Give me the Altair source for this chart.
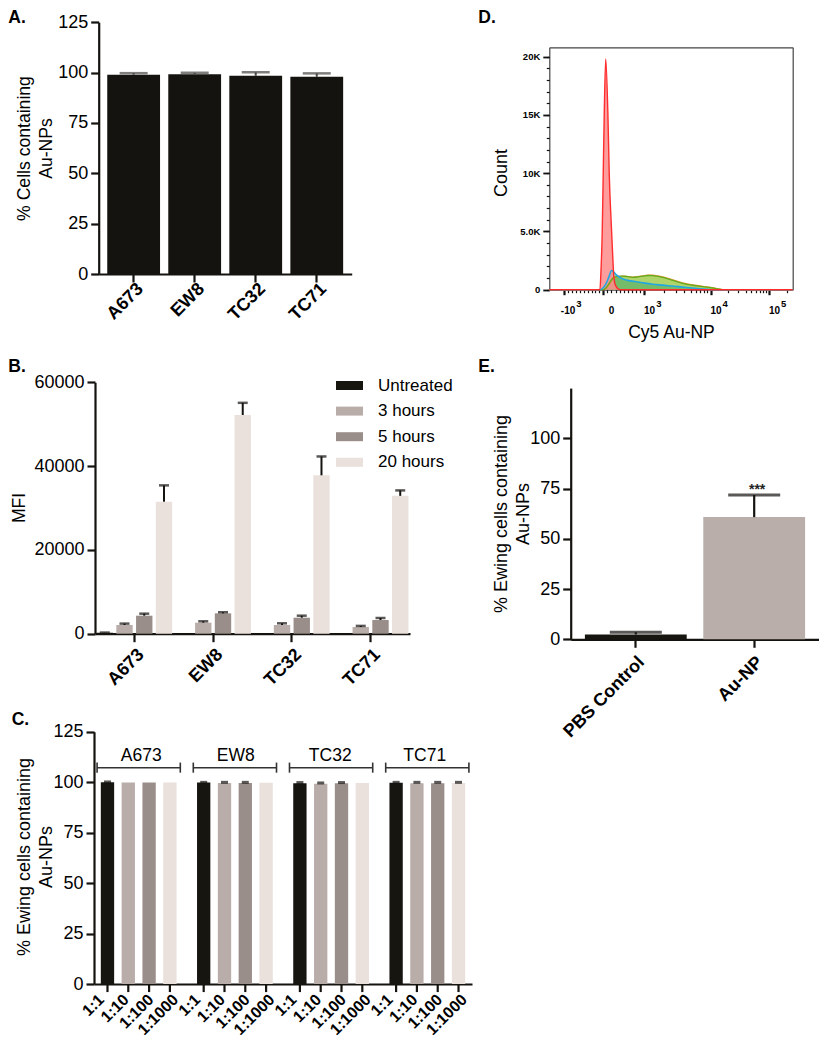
import altair as alt
import pandas as pd

# ---------------- canvas layout (page offset of the chart origin is 8px) ----------------
W, H = 811, 1034
M = 8


def px(v):
    return v - M


def py(v):
    return v - M


FONT = "Liberation Sans"
INK = "#15130f"

# ---------------- data ----------------
cell_lines = ["A673", "EW8", "TC32", "TC71"]

# Panel A: % cells containing Au-NPs
a_pct = [98.9, 99.2, 98.4, 97.9]
a_err = [0.8, 0.7, 1.7, 1.7]

# Panel B: MFI over time
b_series = ["Untreated", "3 hours", "5 hours", "20 hours"]
b_colors = ["#17150f", "#b9adaa", "#9a8e8a", "#eae0dc"]
b_untreated = [230, 120, 120, 120]
b_3h = [2080, 2630, 2080, 1600]
b_5h = [4300, 4860, 3820, 3270]
b_20h = [31500, 52200, 37800, 32900]
b_untreated_err = [40, 0, 0, 0]
b_3h_err = [330, 330, 400, 260]
b_5h_err = [480, 260, 480, 480]
b_20h_err = [3900, 2900, 4500, 1300]

# Panel C: dilution series per cell line
c_ratios = ["1:1", "1:10", "1:100", "1:1000"]
c_a673 = [99.9, 99.8, 99.8, 99.8]
c_ew8 = [99.8, 99.6, 99.6, 99.7]
c_tc32 = [99.5, 99.2, 99.5, 99.6]
c_tc71 = [99.7, 99.5, 99.5, 99.6]
c_a673_err = [0.2, 0.0, 0.0, 0.0]
c_ew8_err = [0.1, 0.3, 0.3, 0.0]
c_tc32_err = [0.3, 0.4, 0.3, 0.0]
c_tc71_err = [0.2, 0.4, 0.4, 0.3]

# Panel D: flow cytometry histograms (display channel across the frame, count)
d_red_ch = [0, 208.0, 212.1, 217.5, 221.6, 225.7, 231.8, 240.8, 246.2, 256.0, 261.4, 265.5, 273.7, 290.1, 1000]
d_red_n = [0, 0, 1500, 5000, 10000, 15000, 19800, 15000, 10000, 5000, 2500, 1000, 300, 0, 0]
d_blue_ch = [0, 208.0, 220.3, 232.6, 244.9, 256.0, 265.5, 276.5, 294.1, 317.6, 351.6, 384.4, 425.4, 466.5,
             515.7, 565.0, 610.1, 642.9, 667.5, 1000]
d_blue_n = [0, 0, 150, 500, 1100, 1650, 1500, 1250, 1000, 820, 700, 590, 470, 390, 290, 190, 100, 40, 0, 0]
d_green_ch = [0, 220.3, 232.6, 244.9, 257.3, 269.6, 286.0, 302.4, 322.9, 343.4, 363.9, 384.4, 405.0, 425.5,
              446.0, 466.5, 495.2, 523.9, 565.0, 606.0, 638.8, 659.4, 684.0, 700.4, 716.8, 1000]
d_green_n = [0, 0, 150, 500, 900, 1100, 1150, 1160, 1120, 1060, 1100, 1160, 1220, 1210, 1150, 1060, 880,
             690, 460, 330, 240, 190, 100, 40, 0, 0]
d_orange_ch = [0, 222.0, 234.0, 246.0, 258.0, 270.0, 286.0, 302.0, 323.0, 343.0, 364.0, 384.0, 405.0,
               425.0, 446.0, 466.0, 495.0, 524.0, 565.0, 606.0, 639.0, 660.0, 684.0, 701.0, 718.0, 1000]
d_orange_n = [0, 0, 120, 450, 850, 1080, 1140, 1170, 1130, 1080, 1120, 1190, 1250, 1240, 1180, 1100, 920,
              730, 500, 360, 260, 200, 110, 50, 0, 0]

# D axes: major ticks (channel position, label parts) and minor tick values
d_xmajor_ch = [61.5, 221.6, 389.8, 662.3, 902.7]
d_xmajor_base = ["-10", "0", "10", "10", "10"]
d_xmajor_exp = ["3", "", "3", "4", "5"]
d_ymajor = [0, 5000, 10000, 15000, 20000]
d_ymajor_lab = ["0", "5.0K", "10K", "15K", "20K"]
d_yminor = list(range(0, 21000, 1000))

# Panel E
e_groups = ["PBS Control", "Au-NP"]
e_colors = ["#17150f", "#b9aeaa"]
e_pct = [2.4, 60.8]
e_err = [1.1, 11.0]
e_sig = ["", "***"]


# minor ticks of the biexponential axis: position between major decades
def biex_ch(v):
    import math
    if v < 0:
        return d_xmajor_ch[1] + (d_xmajor_ch[1] - d_xmajor_ch[0]) * (v / 1000.0)
    if v <= 1000:
        return d_xmajor_ch[1] + (d_xmajor_ch[2] - d_xmajor_ch[1]) * (v / 1000.0)
    if v <= 10000:
        return d_xmajor_ch[2] + (d_xmajor_ch[3] - d_xmajor_ch[2]) * math.log10(v / 1000.0)
    return d_xmajor_ch[3] + (d_xmajor_ch[4] - d_xmajor_ch[3]) * math.log10(v / 10000.0)


minor_vals = [-k * 100 for k in range(1, 10)] + [k * 100 for k in range(1, 10)] + \
    [k * 1000 for k in range(2, 10)] + [k * 10000 for k in range(2, 10)] + [200000]
d_xminor_ch = [biex_ch(v) for v in minor_vals]

# ---------------- helpers ----------------


def S(**kw):
    return alt.Scale(**kw)


def txt(s, x, y, size=17.5, weight="normal", angle=0, align="center", baseline="middle"):
    return alt.Chart(pd.DataFrame({"s": [s]})).mark_text(
        font=FONT, fontSize=size, fontWeight=weight, angle=angle, align=align,
        baseline=baseline, color="black"
    ).encode(x=alt.value(px(x)), y=alt.value(py(y)), text="s:N")


layers = []

# ================= Panel A =================
dfA = pd.DataFrame({"line": cell_lines, "pct": a_pct, "err": a_err})
dfA["hi"] = dfA["pct"] + dfA["err"]
A_X = dict(domain=cell_lines, range=[px(98.7), px(351.7)], paddingInner=0.135, paddingOuter=0.14)
A_Y = dict(domain=[0, 125], range=[py(274), py(22.2)], nice=False)

layers.append(alt.Chart(dfA).mark_bar(color=INK).encode(
    x=alt.X("line:N", scale=S(**A_X), axis=alt.Axis(
        orient="bottom", offset=py(274) - H, title=None, labelAngle=-45, labelAlign="right",
        labelBaseline="middle", labelFontWeight="bold", labelPadding=4, labelOffset=7)),
    y=alt.Y("pct:Q", scale=S(**A_Y), axis=alt.Axis(
        orient="left", offset=-px(98.7), values=[0, 25, 50, 75, 100, 125], title=None)),
))
layers.append(alt.Chart(dfA).mark_rule(color="#4a4744", strokeWidth=2).encode(
    x=alt.X("line:N", scale=S(**A_X), axis=None),
    y=alt.Y("pct:Q", scale=S(**A_Y), axis=None), y2="hi:Q"))
layers.append(alt.Chart(dfA).mark_tick(color="#4a4744", thickness=2.5, size=28).encode(
    x=alt.X("line:N", scale=S(**A_X), axis=None),
    y=alt.Y("hi:Q", scale=S(**A_Y), axis=None)))

# ================= Panel B =================
rows = []
for s, vals, errs in zip(b_series, [b_untreated, b_3h, b_5h, b_20h],
                         [b_untreated_err, b_3h_err, b_5h_err, b_20h_err]):
    for ln, v, e in zip(cell_lines, vals, errs):
        rows.append({"line": ln, "series": s, "mfi": v, "hi": v + e})
dfB = pd.DataFrame(rows)
B_X = dict(domain=cell_lines, range=[px(95), px(410)], paddingInner=0, paddingOuter=0)
B_XO = dict(domain=b_series, paddingInner=0.17, paddingOuter=0.08)
B_Y = dict(domain=[0, 60000], range=[py(633.7), py(382.3)], nice=False)

layers.append(alt.Chart(dfB).mark_bar().encode(
    x=alt.X("line:N", scale=S(**B_X), axis=alt.Axis(
        orient="bottom", offset=py(633.7) - H, title=None, labelAngle=-45, labelAlign="right",
        labelBaseline="middle", labelFontWeight="bold", labelPadding=10, labelOffset=7)),
    xOffset=alt.XOffset("series:N", scale=S(**B_XO)),
    y=alt.Y("mfi:Q", scale=S(**B_Y), axis=alt.Axis(
        orient="left", offset=-px(95), values=[0, 20000, 40000, 60000], format="d", title=None)),
    color=alt.Color("series:N", scale=S(domain=b_series, range=b_colors), legend=alt.Legend(
        orient="none", legendX=px(336), legendY=py(372), title=None,
        symbolType="M-1,-0.333H1V0.333H-1Z", symbolSize=729, symbolStrokeWidth=0,
        symbolOpacity=1, labelFont=FONT, labelFontSize=17, labelColor="black",
        labelOffset=15, rowPadding=3.6, padding=0)),
))
dfBe = dfB[dfB["hi"] > dfB["mfi"]]
layers.append(alt.Chart(dfBe).mark_rule(color=INK, strokeWidth=2).encode(
    x=alt.X("line:N", scale=S(**B_X), axis=None),
    xOffset=alt.XOffset("series:N", scale=S(**B_XO)),
    y=alt.Y("mfi:Q", scale=S(**B_Y), axis=None), y2="hi:Q"))
layers.append(alt.Chart(dfBe).mark_tick(color=INK, thickness=2.5, size=10).encode(
    x=alt.X("line:N", scale=S(**B_X), axis=None),
    xOffset=alt.XOffset("series:N", scale=S(**B_XO)),
    y=alt.Y("hi:Q", scale=S(**B_Y), axis=None)))

# ================= Panel C =================
rows = []
for ln, vals, errs in zip(cell_lines, [c_a673, c_ew8, c_tc32, c_tc71],
                          [c_a673_err, c_ew8_err, c_tc32_err, c_tc71_err]):
    for r, v, e in zip(c_ratios, vals, errs):
        rows.append({"line": ln, "ratio": r, "pct": v, "hi": v + e})
dfC = pd.DataFrame(rows)
dfCg = pd.DataFrame({"line": cell_lines})
C_X = dict(domain=cell_lines, range=[px(94), px(472)], paddingInner=0.135, paddingOuter=0.032)
C_XO = dict(domain=c_ratios, paddingInner=0.36, paddingOuter=0.18)
C_Y = dict(domain=[0, 125], range=[py(984), py(731.7)], nice=False)

layers.append(alt.Chart(dfC).mark_bar().encode(
    x=alt.X("line:N", scale=S(**C_X), axis=alt.Axis(
        orient="bottom", offset=py(984) - H, title=None, labels=False, ticks=False)),
    xOffset=alt.XOffset("ratio:N", scale=S(**C_XO)),
    y=alt.Y("pct:Q", scale=S(**C_Y), axis=alt.Axis(
        orient="left", offset=-px(94), values=[0, 25, 50, 75, 100, 125], title=None)),
    color=alt.Color("ratio:N", scale=S(domain=c_ratios, range=b_colors), legend=None),
))
dfCe = dfC[dfC["hi"] > dfC["pct"]]
layers.append(alt.Chart(dfCe).mark_tick(color=INK, thickness=3, size=7).encode(
    x=alt.X("line:N", scale=S(**C_X), axis=None),
    xOffset=alt.XOffset("ratio:N", scale=S(**C_XO)),
    y=alt.Y("hi:Q", scale=S(**C_Y), axis=None)))
# per-bar axis ticks and rotated ratio labels
layers.append(alt.Chart(dfC).mark_rule(color=INK, strokeWidth=2.2).encode(
    x=alt.X("line:N", scale=S(**C_X), axis=None),
    xOffset=alt.XOffset("ratio:N", scale=S(**C_XO)),
    y=alt.YDatum(0, scale=S(**C_Y), axis=None), y2=alt.Y2Datum(-4)))
layers.append(alt.Chart(dfC).mark_text(
    font=FONT, fontSize=16, fontWeight="bold", angle=315, align="right", baseline="middle",
    color="black").encode(
    x=alt.X("line:N", scale=S(**C_X), axis=None),
    xOffset=alt.XOffset("ratio:N", scale=S(**C_XO)),
    y=alt.YDatum(-6.5, scale=S(**C_Y), axis=None), text="ratio:N"))
# group brackets
layers.append(alt.Chart(dfCg).mark_bar(color="#333333").encode(
    x=alt.X("line:N", scale=S(**C_X), axis=None),
    y=alt.YDatum(107.5, scale=S(**C_Y), axis=None), y2=alt.Y2Datum(106.8)))
for bp in (0, 1):
    layers.append(alt.Chart(dfCg).mark_rule(color="#333333", strokeWidth=1.6).encode(
        x=alt.X("line:N", scale=S(**C_X), axis=None, bandPosition=bp),
        y=alt.YDatum(109.7, scale=S(**C_Y), axis=None), y2=alt.Y2Datum(104.7)))
layers.append(alt.Chart(dfCg).mark_text(
    font=FONT, fontSize=17.5, color="black", baseline="alphabetic").encode(
    x=alt.X("line:N", scale=S(**C_X), axis=None),
    y=alt.YDatum(110.4, scale=S(**C_Y), axis=None), text="line:N"))

# ================= Panel D =================
def curve(ch, n, name):
    return pd.DataFrame({"ch": ch, "n": n, "sample": name})


dR = curve(d_red_ch, d_red_n, "red")
dB = curve(d_blue_ch, d_blue_n, "blue")
dG = curve(d_green_ch, d_green_n, "green")
dO = curve(d_orange_ch, d_orange_n, "orange")
D_X = dict(domain=[0, 1000], range=[px(549.3), px(792.7)], nice=False, zero=False)
D_Y = dict(domain=[0, 20800], range=[py(289.7), py(47.3)], nice=False)

ylab_expr = "''"
for v, lab in zip(d_ymajor, d_ymajor_lab):
    ylab_expr = f"datum.value == {v} ? '{lab}' : ({ylab_expr})"

layers.append(alt.Chart(dG).mark_area(color="#a6d05a", opacity=0.9, interpolate="monotone").encode(
    x=alt.X("ch:Q", scale=S(**D_X), axis=alt.Axis(
        orient="bottom", offset=py(289.7) - H, values=d_xmajor_ch, labels=False, title=None,
        tickSize=5, tickWidth=2.2, tickColor="#111", domainColor="#444", domainWidth=1.2)),
    y=alt.Y("n:Q", scale=S(**D_Y), axis=alt.Axis(
        orient="left", offset=-px(549.3), values=d_ymajor, labelExpr=ylab_expr, title=None,
        labelFontSize=9.5, labelFontWeight="bold", tickSize=6.5, tickWidth=1.8, tickColor="#111",
        domainColor="#444", domainWidth=1.2, labelPadding=3)),
))
layers.append(alt.Chart(dB).mark_area(color="#2f9e6a", opacity=0.45, interpolate="monotone").encode(
    x=alt.X("ch:Q", scale=S(**D_X), axis=alt.Axis(
        orient="bottom", offset=py(289.7) - H, values=d_xminor_ch, labels=False, title=None,
        domain=False, tickSize=3, tickWidth=1.2, tickColor="#111")),
    y=alt.Y("n:Q", scale=S(**D_Y), axis=alt.Axis(
        orient="left", offset=-px(549.3), values=d_yminor, labels=False, title=None,
        domain=False, tickSize=3, tickWidth=1.2, tickColor="#111")),
))
layers.append(alt.Chart(dR).mark_area(color="#ff8c8c", opacity=0.85, interpolate="monotone").encode(
    x=alt.X("ch:Q", scale=S(**D_X), axis=alt.Axis(
        orient="top", offset=-py(47.3), labels=False, ticks=False, title=None,
        domainColor="#444", domainWidth=1.2)),
    y=alt.Y("n:Q", scale=S(**D_Y), axis=alt.Axis(
        orient="right", offset=px(792.7) - W, labels=False, ticks=False, title=None,
        domainColor="#444", domainWidth=1.2)),
))
for dfc, col, sw in ((dO, "#f39233", 1.3), (dG, "#62ab1e", 1.3), (dB, "#22a7e0", 1.6), (dR, "#ff2d2d", 1.4)):
    layers.append(alt.Chart(dfc).mark_line(color=col, strokeWidth=sw, interpolate="monotone").encode(
        x=alt.X("ch:Q", scale=S(**D_X), axis=None),
        y=alt.Y("n:Q", scale=S(**D_Y), axis=None)))

dfDt = pd.DataFrame({"ch": d_xmajor_ch, "base": d_xmajor_base, "exp": d_xmajor_exp})
layers.append(alt.Chart(dfDt).mark_text(
    font=FONT, fontSize=10, fontWeight="bold", align="right", baseline="alphabetic", dx=11,
    color="black").encode(
    x=alt.X("ch:Q", scale=S(**D_X), axis=None), y=alt.value(py(314.3)), text="base:N"))
layers.append(alt.Chart(dfDt).mark_text(
    font=FONT, fontSize=9.5, fontWeight="bold", align="left", baseline="alphabetic", dx=12,
    color="black").encode(
    x=alt.X("ch:Q", scale=S(**D_X), axis=None), y=alt.value(py(307.3)), text="exp:N"))

# ================= Panel E =================
dfE = pd.DataFrame({"grp": e_groups, "pct": e_pct, "err": e_err, "sig": e_sig})
dfE["hi"] = dfE["pct"] + dfE["err"]
E_X = dict(domain=e_groups, range=[px(570.7), px(819.3)], paddingInner=0.14, paddingOuter=0.12)
E_Y = dict(domain=[0, 125], range=[py(639.3), py(388.1)], nice=False)

layers.append(alt.Chart(dfE).mark_bar().encode(
    x=alt.X("grp:N", scale=S(**E_X), axis=alt.Axis(
        orient="bottom", offset=py(639.3) - H, title=None, labelAngle=-45, labelAlign="right",
        labelBaseline="middle", labelFontWeight="bold", labelPadding=12, labelOffset=6)),
    y=alt.Y("pct:Q", scale=S(**E_Y), axis=alt.Axis(
        orient="left", offset=-px(570.7), values=[0, 25, 50, 75, 100], title=None)),
    color=alt.Color("grp:N", scale=S(domain=e_groups, range=e_colors), legend=None),
))
layers.append(alt.Chart(dfE).mark_rule(color=INK, strokeWidth=2.2).encode(
    x=alt.X("grp:N", scale=S(**E_X), axis=None),
    y=alt.Y("pct:Q", scale=S(**E_Y), axis=None), y2="hi:Q"))
layers.append(alt.Chart(dfE).mark_tick(color=INK, thickness=3, size=52).encode(
    x=alt.X("grp:N", scale=S(**E_X), axis=None),
    y=alt.Y("hi:Q", scale=S(**E_Y), axis=None)))
layers.append(alt.Chart(dfE).mark_text(
    font=FONT, fontSize=14, fontWeight="bold", baseline="alphabetic", dy=-1, color="#222").encode(
    x=alt.X("grp:N", scale=S(**E_X), axis=None),
    y=alt.Y("hi:Q", scale=S(**E_Y), axis=None), text="sig:N"))

# ================= titles and panel letters =================
layers += [
    txt("A.", 8.3, 22.7, size=17.5, weight="bold", align="left", baseline="alphabetic"),
    txt("B.", 8.3, 371.7, size=17.5, weight="bold", align="left", baseline="alphabetic"),
    txt("C.", 11.7, 725, size=17.5, weight="bold", align="left", baseline="alphabetic"),
    txt("D.", 478.3, 23.3, size=17.5, weight="bold", align="left", baseline="alphabetic"),
    txt("E.", 478.3, 372, size=17.5, weight="bold", align="left", baseline="alphabetic"),
    txt("% Cells containing", 25, 148.5, size=17.6, angle=270),
    txt("Au-NPs", 47, 148.5, size=17.6, angle=270),
    txt("MFI", 19.5, 508, size=17.5, angle=270),
    txt("% Ewing cells containing", 25, 857, size=18, angle=270),
    txt("Au-NPs", 47, 857, size=18, angle=270),
    txt("Count", 501.7, 173, size=18, angle=270),
    txt("Cy5 Au-NP", 671.5, 333, size=17.5),
    txt("% Ewing cells containing", 502, 514, size=18, angle=270),
    txt("Au-NPs", 523.5, 514, size=18, angle=270),
]

chart = alt.layer(*layers).resolve_scale(
    x="independent", y="independent", color="independent", xOffset="independent"
).resolve_axis(x="independent", y="independent").resolve_legend(color="independent").properties(
    width=W, height=H, autosize=alt.AutoSizeParams(type="none"), padding=0
).configure_axis(
    labelFont=FONT, labelFontSize=18, labelColor="black", domainColor=INK, domainWidth=2.2,
    tickColor=INK, tickWidth=2.2, tickSize=8, grid=False, labelPadding=3
).configure_view(stroke=None)

chart.save("out.html", embed_options={"renderer": "svg", "actions": False})
